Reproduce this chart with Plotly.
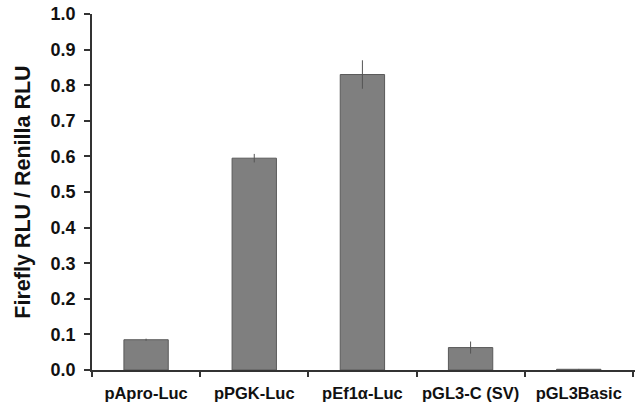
import plotly.graph_objects as go

categories = ["pApro-Luc", "pPGK-Luc", "pEf1α-Luc", "pGL3-C (SV)", "pGL3Basic"]
values = [0.085, 0.595, 0.830, 0.063, 0.002]
errors = [0.003, 0.012, 0.040, 0.017, 0.001]
y_ticks = [0.0, 0.1, 0.2, 0.3, 0.4, 0.5, 0.6, 0.7, 0.8, 0.9, 1.0]

fig = go.Figure(go.Bar(
    x=categories, y=values,
    error_y=dict(type="data", array=errors, color="#555555", thickness=1, width=0),
    marker=dict(color="#7f7f7f", line=dict(color="#5a5a5a", width=1)),
    width=0.41,
))

font_family = "Liberation Sans, Arial, sans-serif"
fig.update_layout(
    width=635, height=405,
    margin=dict(l=92, r=0, t=14, b=35),
    plot_bgcolor="white", paper_bgcolor="white",
    showlegend=False,
    font=dict(family=font_family, color="#111111"),
    xaxis=dict(
        type="category", range=[-0.5, 4.52], automargin=False,
        showline=True, linecolor="#333333", linewidth=1.5,
        ticks="outside", tickson="boundaries", ticklen=5, tickcolor="#333333", tickwidth=1.5,
        ticklabelstandoff=7,
        tickfont=dict(size=16.5, family=font_family, weight="bold"),
        showgrid=False,
    ),
    yaxis=dict(
        range=[0, 1.0], tickvals=y_ticks, tickformat=".1f", automargin=False,
        showline=True, linecolor="#333333", linewidth=1.5,
        ticks="outside", ticklen=6, tickcolor="#333333", tickwidth=1.5,
        ticklabelstandoff=5,
        tickfont=dict(size=18, family=font_family, weight="bold"),
        showgrid=False, zeroline=False,
        title=dict(text="Firefly RLU / Renilla RLU",
                   font=dict(size=21.5, family=font_family, weight="bold"), standoff=14),
    ),
)

fig.write_html("out.html", config={"displayModeBar": False},
               post_script="document.body.style.margin='0px';")
